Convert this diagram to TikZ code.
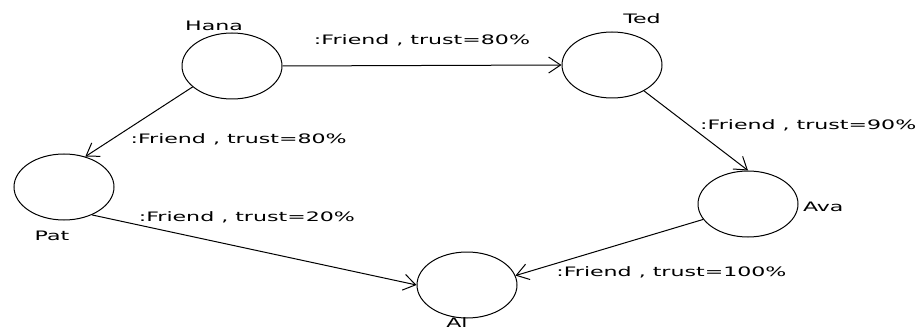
\documentclass[tikz,border=0pt]{standalone}
\usepackage{fontspec}
\usetikzlibrary{shapes.geometric,arrows.meta}
\newfontfamily\stretchsans[FakeStretch=1.7]{DejaVu Sans}
\newcommand{\labelfont}{\stretchsans\fontsize{13}{15}\selectfont}

\begin{document}
\begin{tikzpicture}[x=1pt, y=-1pt, line width=1pt,
        person/.style={draw, ellipse, minimum width=100pt, minimum height=66pt},
        rel/.style={font=\labelfont, inner sep=1pt},
        every label/.style={font=\labelfont, inner sep=1pt},
        >={Straight Barb[length=12pt, width=16pt]}]
        \useasboundingbox (0,0) rectangle (918,331);
        \node[person, label={[xshift=-18pt]above:Hana}] (hana) at (232,66) {};
        \node[person, label={[xshift=30pt, yshift=6pt]above:Ted}] (ted) at (612,65) {};
        \node[person, label={[xshift=-12pt, yshift=-9pt]below:Pat}] (pat) at (64,187) {};
        \node[person, label={[xshift=3pt, yshift=-3pt]right:Ava}] (ava) at (748,204) {};
        \node[person, label={[xshift=-10pt, yshift=2pt]below:Al}] (al) at (467,285) {};
        \draw[->] (hana.east)--(ted.west) node[rel, midway, yshift=25pt]{:Friend , trust=80\%};
        \draw[->] (hana.208)--(pat.55) node[rel, pos=0.75, right=17pt]{:Friend , trust=80\%};
        \draw[->] (ted.321)--(ava.north) node[rel, pos=0.43, right=10pt]{:Friend , trust=90\%};
        \draw[->] (pat.315)--(al.west) node[rel, pos=0.14, anchor=south west]{:Friend , trust=20\%};
        \draw[->] (ava.199)--(al.11) node[rel, pos=0.95, right=30pt]{:Friend , trust=100\%};
\end{tikzpicture}
\end{document}
